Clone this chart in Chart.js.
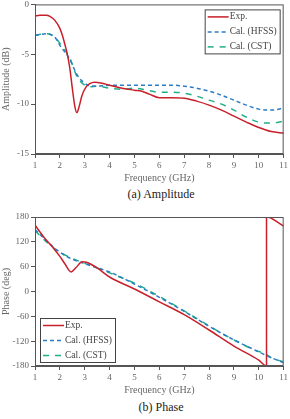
<!DOCTYPE html>
<html>
<head>
<meta charset="utf-8">
<script src="https://cdn.jsdelivr.net/npm/chart.js@4/dist/chart.umd.min.js"></script>
<style>
  html, body { margin: 0; padding: 0; background: #fff; }
  #wrap { width: 290px; }
  .caja { position: relative; width: 290px; }
  .pie { width: 252px; margin-left: 35px; text-align: center; font-family: "Liberation Serif", serif; font-size: 12px; color: #222; }
</style>
</head>
<body>
<div id="wrap">
  <div class="caja" style="height:189px;margin-top:-3px"><canvas id="amp"></canvas></div>
  <div class="pie" style="height:16px;line-height:16px">(a) Amplitude</div>
  <div class="caja" style="height:196px"><canvas id="fase"></canvas></div>
  <div class="pie" style="height:18px;line-height:18px">(b) Phase</div>
</div>
<script>
// Datos
const etiquetas = ['Exp.', 'Cal. (HFSS)', 'Cal. (CST)'];

const ampExpX = [1, 1.2, 1.45, 1.6, 1.8, 2, 2.1, 2.2, 2.3, 2.4, 2.5, 2.6, 2.68, 2.78, 2.88, 3.05, 3.2, 3.4, 3.7, 4, 4.5, 5, 5.3, 5.6, 6, 6.5, 7, 7.5, 8, 8.5, 9, 9.5, 10, 10.5, 11];
const ampExpY = [-1.15, -1.1, -1.08, -1.2, -1.6, -2.4, -3.1, -4.0, -5.0, -6.4, -8.4, -10.2, -10.85, -10.2, -9.2, -8.3, -7.95, -7.8, -7.9, -8.1, -8.4, -8.6, -8.7, -9.0, -9.35, -9.35, -9.4, -9.7, -10.1, -10.6, -11.2, -11.8, -12.35, -12.75, -12.9];

const ampCalX = [1, 1.25, 1.5, 1.8, 2, 2.4, 2.7, 3, 3.2, 3.5, 4, 4.5, 5, 5.5, 6, 6.5, 7, 7.5, 8, 8.5, 9, 9.5, 10, 10.5, 11];
const ampHfssY = [-3.1, -3.0, -2.95, -3.3, -4.1, -5.5, -7.1, -7.9, -8.15, -8.2, -8.1, -8.1, -8.1, -8.1, -8.1, -8.1, -8.2, -8.4, -8.7, -9.1, -9.6, -10.1, -10.5, -10.6, -10.4];
const ampCstY = [-3.1, -3.0, -2.95, -3.3, -3.9, -5.4, -7.3, -8.1, -8.25, -8.2, -8.4, -8.5, -8.4, -8.6, -8.8, -8.8, -8.9, -9.2, -9.6, -10.0, -10.6, -11.3, -11.8, -11.9, -11.7];

const faseExpX = [1, 1.4, 1.75, 2, 2.2, 2.45, 2.65, 2.9, 3.1, 3.5, 4, 5, 6, 7, 8, 9, 10, 10.31, 10.31, 11];
const faseExpY = [160, 128, 104, 85, 67, 47, 58, 72, 70, 57, 35, 6, -25, -56, -93, -132, -166, -180, 180, 158];

const faseCalX = [1, 1.5, 2, 2.5, 3, 4, 5, 6, 7, 8, 9, 10, 10.2, 10.5, 11];
const faseHfssY = [150, 120, 95, 78, 67, 47, 18, -14, -48, -84, -117, -146, -152, -160, -172];
const faseCstY = [147, 118, 95, 80, 68, 45, 20, -12, -47, -83, -117, -145, -148, -160, -170];

const xTicks = [1, 2, 3, 4, 5, 6, 7, 8, 9, 10, 11];
const ampTicks = [-15, -10, -5, 0];
const faseTicks = [-180, -120, -60, 0, 60, 120, 180];

const colores = ['#c8202a', '#2c7cc4', '#1fae86'];
const guiones = [[], [4, 3], [6, 6]];

const fuente = '"Liberation Serif", "Times New Roman", serif';
Chart.defaults.font.family = fuente;
Chart.defaults.color = '#666';

function puntos(xs, ys) {
    return xs.map((x, i) => ({ x: x, y: ys[i] }));
}

// Marco, etiquetas del eje Y y leyenda dibujados al final
const marcoLeyenda = {
    id: 'marcoLeyenda',
    afterDraw(chart, args, opts) {
        const ctx = chart.ctx;
        const a = chart.chartArea;
        const ejeY = chart.scales.y;
        ctx.save();
        ctx.strokeStyle = '#555';
        ctx.lineWidth = 1;
        ctx.strokeRect(a.left + 0.5, a.top + 0.5, a.right - a.left - 1, a.bottom - a.top - 1);

        // etiquetas del eje Y (así la del extremo superior siempre se ve)
        ctx.font = '9px ' + fuente;
        ctx.fillStyle = '#666';
        ctx.textAlign = 'right';
        ctx.textBaseline = 'middle';
        ejeY.ticks.forEach(t => {
            ctx.fillText(String(t.value), a.left - 6, ejeY.getPixelForValue(t.value));
        });

        const w = 75, h = 44;
        const x0 = opts.esquina === 'arriba' ? a.right - 4 - w : a.left + 5;
        const y0 = opts.esquina === 'arriba' ? a.top + 5 : a.bottom - 4 - h;
        ctx.fillStyle = '#fff';
        ctx.fillRect(x0, y0, w, h);
        ctx.strokeStyle = '#444';
        ctx.strokeRect(x0 + 0.5, y0 + 0.5, w, h);
        ctx.font = '9.5px ' + fuente;
        ctx.textAlign = 'left';
        etiquetas.forEach((t, i) => {
            const y = y0 + 7.5 + i * 15;
            ctx.strokeStyle = colores[i];
            ctx.lineWidth = 1.5;
            ctx.setLineDash(guiones[i]);
            ctx.beginPath();
            ctx.moveTo(x0 + 3, y);
            ctx.lineTo(x0 + 24, y);
            ctx.stroke();
            ctx.setLineDash([]);
            ctx.fillStyle = '#444';
            ctx.fillText(t, x0 + 25, y);
        });
        ctx.restore();
    }
};

function crearGrafico(id, series, yTicks, yTitulo, esquina, padTop) {
    const ctx = document.getElementById(id).getContext('2d');
    return new Chart(ctx, {
        type: 'line',
        data: {
            datasets: series.map((s, i) => ({
                label: etiquetas[i],
                data: s,
                borderColor: colores[i],
                borderWidth: 1.5,
                borderDash: guiones[i],
                pointRadius: 0,
                cubicInterpolationMode: 'monotone',
                fill: false
            }))
        },
        options: {
            responsive: true,
            maintainAspectRatio: false,
            animation: false,
            layout: { padding: { top: padTop, right: 3, left: 0, bottom: 0 } },
            plugins: {
                legend: { display: false },
                tooltip: { enabled: false },
                marcoLeyenda: { esquina: esquina }
            },
            scales: {
                x: {
                    type: 'linear',
                    min: 1, max: 11,
                    afterBuildTicks: s => { s.ticks = xTicks.map(v => ({ value: v })); },
                    afterFit: s => { s.height = 32; },
                    grid: { drawOnChartArea: false, tickLength: 4, color: '#555' },
                    border: { color: '#555' },
                    ticks: { font: { size: 9 }, padding: 2, maxRotation: 0 },
                    title: { display: true, text: 'Frequency (GHz)', font: { size: 10 }, padding: { top: 0, bottom: 2 } }
                },
                y: {
                    type: 'linear',
                    min: yTicks[0], max: yTicks[yTicks.length - 1],
                    afterBuildTicks: s => { s.ticks = yTicks.map(v => ({ value: v })); },
                    ticks: { font: { size: 9 }, padding: 2, color: 'rgba(0,0,0,0)' },
                    afterFit: s => { s.width = 35; },
                    grid: { drawOnChartArea: false, tickLength: 4, color: '#555' },
                    border: { color: '#555' },
                    title: { display: true, text: yTitulo, font: { size: 10 }, padding: 0 }
                }
            }
        },
        plugins: [marcoLeyenda]
    });
}

crearGrafico('amp',
    [puntos(ampExpX, ampExpY), puntos(ampCalX, ampHfssY), puntos(ampCalX, ampCstY)],
    ampTicks, 'Amplitude (dB)', 'arriba', 0);

crearGrafico('fase',
    [puntos(faseExpX, faseExpY), puntos(faseCalX, faseHfssY), puntos(faseCalX, faseCstY)],
    faseTicks, 'Phase (deg)', 'abajo', 15);
</script>
</body>
</html>
